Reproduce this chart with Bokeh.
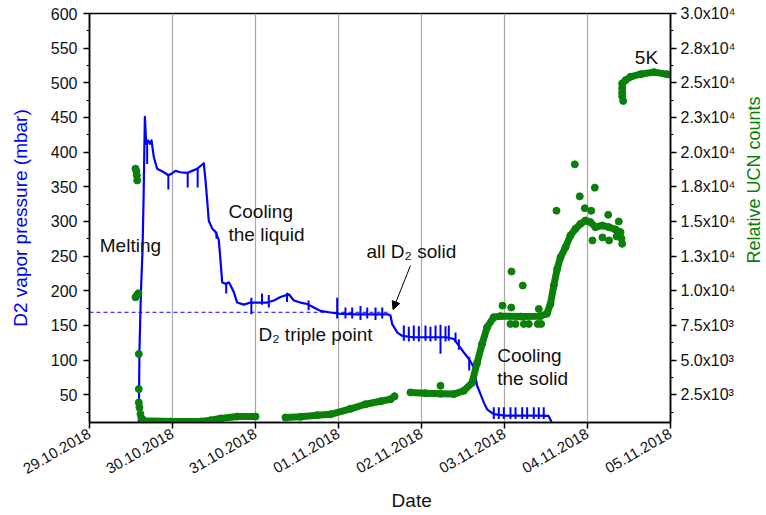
import math
from bokeh.plotting import figure
from bokeh.models import Range1d, LinearAxis, FixedTicker, Label, Arrow, NormalHead
from bokeh.embed import file_html
from bokeh.resources import INLINE

FONT = "Liberation Sans"
BLUE = "#0000ff"
GREEN = "#0a800a"

# ---------------- axes / ticks ----------------
date_ticks = [0, 1, 2, 3, 4, 5, 6, 7]
date_labels = ["29.10.2018", "30.10.2018", "31.10.2018", "01.11.2018",
               "02.11.2018", "03.11.2018", "04.11.2018", "05.11.2018"]
grid_days = [1, 2, 3, 4, 5, 6]

pressure_ticks = [50, 100, 150, 200, 250, 300, 350, 400, 450, 500, 550, 600]
pressure_minor = [25, 75, 125, 175, 225, 275, 325, 375, 425, 475, 525, 575]

ucn_ticks = [2500, 5000, 7500, 10000, 12500, 15000, 17500, 20000, 22500, 25000, 27500, 30000]
ucn_minor = [1250, 3750, 6250, 8750, 11250, 13750, 16250, 18750, 21250, 23750, 26250, 28750]
ucn_tick_labels = ["2.5x10\u00b3", "5.0x10\u00b3", "7.5x10\u00b3", "1.0x10\u2074",
                   "1.3x10\u2074", "1.5x10\u2074", "1.8x10\u2074", "2.0x10\u2074",
                   "2.3x10\u2074", "2.5x10\u2074", "2.8x10\u2074", "3.0x10\u2074"]

# ---------------- D2 vapor pressure (days since 29.10.2018 00:00, mbar) ----------------
blue_day = [0.594, 0.602, 0.620, 0.639, 0.651, 0.667, 0.683, 0.707, 0.727, 0.747,
            0.775, 0.815, 0.896, 0.944, 0.976, 1.036, 1.096, 1.177, 1.237, 1.297,
            1.337, 1.377, 1.398, 1.418, 1.437, 1.478, 1.518, 1.558, 1.578, 1.599,
            1.639, 1.679, 1.699, 1.739, 1.779, 1.859, 1.940, 2.020, 2.141, 2.221,
            2.301, 2.402, 2.462, 2.542, 2.622, 2.702, 2.783, 2.883, 3.000, 3.200,
            3.400, 3.600, 3.627, 3.647, 3.707, 3.767, 3.900, 4.100, 4.300, 4.390,
            4.450, 4.510, 4.570, 4.630, 4.670, 4.711, 4.750, 4.790, 4.870, 5.000,
            5.200, 5.400, 5.530, 5.590]
blue_mbar = [10, 114, 200, 258, 330, 451, 412, 417, 412, 417,
             393, 376, 371, 367, 368, 373, 371, 370, 373, 376,
             380, 384, 359, 330, 301, 290, 285, 273, 244, 212,
             210, 212, 208, 198, 183, 180, 183, 183, 183, 186,
             191, 195, 186, 183, 181, 176, 171, 169, 167, 166,
             166, 166, 164, 152, 140, 135, 133, 133, 133, 130.5,
             121, 111, 102, 89.5, 63, 51, 39, 29, 22, 20,
             20, 20, 19.7, 5]

# pressure spikes (day, low, high)
spike_day = [0.695, 0.950, 1.183, 1.303, 1.530, 1.647, 1.950, 2.078, 2.160, 2.380,
             2.640, 2.984, 3.084, 3.165, 3.265, 3.346, 3.446, 3.527,
             3.787, 3.847, 3.907, 3.968, 4.048, 4.108, 4.169, 4.229, 4.289, 4.329, 4.410,
             4.450, 4.575,
             4.871, 4.931, 4.992, 5.072, 5.133, 5.213, 5.273, 5.353, 5.413, 5.473]
spike_low = [383, 346, 349, 349, 275, 196, 166, 180, 176, 184,
             172, 160, 160, 160, 158, 160, 158, 160,
             128, 127, 128, 127, 128, 127, 128, 109, 127, 128, 126,
             115, 85,
             15, 15, 15, 15, 15, 15, 15, 15, 15, 15]
spike_high = [415, 367, 370, 376, 285, 210, 190, 196, 194, 197,
              186, 190, 176, 176, 178, 176, 176, 176,
              150, 148, 150, 149, 150, 148, 150, 151, 149, 150, 140,
              130, 105,
              32, 32, 32, 32, 32, 32, 32, 32, 32, 32]

triple_point_mbar = 169
triple_line_day = [0.0, 3.6]

# ---------------- Relative UCN counts ----------------
ucn_melt_day = [0.554, 0.566, 0.570, 0.575, 0.554, 0.572, 0.590, 0.594, 0.594, 0.594,
                0.602, 0.614, 0.635]
ucn_melt_counts = [18810, 18610, 18320, 17960, 9530, 9690, 9820, 5440, 2910, 1945,
                   1580, 1110, 745]

ucn_seg1_day = [0.635, 0.654, 0.976, 1.337, 1.458, 1.578, 1.780, 2.000]
ucn_seg1_counts = [745, 620, 570, 570, 660, 790, 930, 930]

ucn_seg2_day = [2.361, 2.542, 2.743, 2.904, 3.145, 3.325, 3.506, 3.627, 3.675]
ucn_seg2_counts = [860, 910, 1030, 1090, 1490, 1815, 2030, 2180, 2390]

ucn_seg3_day = [3.867, 4.048, 4.229, 4.389, 4.510, 4.610, 4.670, 4.730, 4.790, 4.870,
                4.950, 5.190, 5.430, 5.510, 5.554, 5.594, 5.635, 5.675, 5.735, 5.795,
                5.855, 5.916, 5.976, 6.036, 6.096, 6.177, 6.257, 6.337, 6.398]
ucn_seg3_counts = [2670, 2610, 2570, 2550, 2790, 3370, 4810, 6160, 7360, 8090,
                   8170, 8140, 8170, 8350, 9050, 10380, 11580, 12420, 13140, 13990,
                   14470, 14830, 15070, 14950, 14590, 14710, 14590, 14420, 14230]

ucn_seg4_day = [6.418, 6.418, 6.458, 6.518, 6.639, 6.799, 6.960, 7.000]
ucn_seg4_counts = [24270, 24950, 25190, 25430, 25620, 25770, 25620, 25590]

ucn_dots_day = [4.229, 4.976, 5.081, 5.084, 5.220, 5.413, 5.626, 5.847, 5.907, 5.967,
                6.045, 6.088, 6.249, 6.377, 5.072, 5.133, 5.233, 5.293, 5.400, 5.442,
                6.418, 6.410, 6.430, 6.418, 6.418, 6.060, 6.180, 6.260, 6.350]
ucn_dots_counts = [3150, 8930, 8790, 11390, 10380, 8690, 15780, 19120, 16810, 15960,
                   15770, 17440, 15480, 15000, 7610, 7610, 7610, 7610, 7610, 7610,
                   13390, 13770, 23690, 24030, 24610, 13630, 13850, 13630, 13920]

# ---------------- figure ----------------
p = figure(width=766, height=515, x_range=Range1d(0, 7), y_range=Range1d(10, 600),
           output_backend="svg", toolbar_location=None,
           min_border_left=89, min_border_right=96, min_border_top=13, min_border_bottom=93)
p.extra_y_ranges = {"ucn": Range1d(500, 30000)}
p.background_fill_color = "white"
p.outline_line_color = "black"
p.outline_line_width = 1.5
p.ygrid.visible = False
p.xgrid.ticker = FixedTicker(ticks=grid_days)
p.xgrid.grid_line_color = "#a8a8a8"
p.xgrid.grid_line_width = 1.2


def style_axis(ax):
    ax.axis_line_width = 1.5
    ax.axis_line_color = "black"
    ax.major_tick_line_width = 1.5
    ax.minor_tick_line_width = 1.2
    ax.major_tick_out = 6
    ax.major_tick_in = 0
    ax.minor_tick_out = 3
    ax.minor_tick_in = 0
    ax.major_label_text_font = FONT
    ax.major_label_text_font_size = "16px"
    ax.major_label_text_color = "#111111"
    ax.axis_label_text_font = FONT
    ax.axis_label_text_font_style = "normal"
    ax.axis_label_text_font_size = "19px"
    ax.axis_label_text_color = "#111111"


xa = p.xaxis[0]
style_axis(xa)
xa.major_label_text_font_size = "15px"
xa.ticker = FixedTicker(ticks=date_ticks, minor_ticks=[])
xa.major_label_overrides = {t: l for t, l in zip(date_ticks, date_labels)}
xa.major_label_orientation = math.pi / 6
xa.major_label_standoff = 4
xa.axis_label = "\u00a0" * 12 + "Date"
xa.axis_label_standoff = 8

ya = p.yaxis[0]
style_axis(ya)
ya.ticker = FixedTicker(ticks=pressure_ticks, minor_ticks=pressure_minor)
ya.axis_label = "D2 vapor pressure (mbar)"
ya.axis_label_text_color = BLUE
ya.axis_label_standoff = 17
ya.major_label_standoff = 6

ra = LinearAxis(y_range_name="ucn")
style_axis(ra)
ra.ticker = FixedTicker(ticks=ucn_ticks, minor_ticks=ucn_minor)
ra.major_label_overrides = {t: l for t, l in zip(ucn_ticks, ucn_tick_labels)}
ra.major_label_standoff = 4
p.add_layout(ra, "right")

# right-hand title placed in the side panel (screen units relative to that panel)
p.add_layout(Label(x=15, y=245, x_units="screen", y_units="screen",
                   text="Relative  UCN counts", text_font=FONT, text_font_size="18px",
                   text_color=GREEN, angle=math.pi / 2, text_align="center",
                   text_baseline="middle"), "right")

# triple point dashed line
p.line(triple_line_day, [triple_point_mbar, triple_point_mbar], line_color=BLUE,
       line_width=1, line_dash="4 3")

# pressure
p.segment(x0=spike_day, y0=spike_low, x1=spike_day, y1=spike_high,
          line_color=BLUE, line_width=2)
p.line(blue_day, blue_mbar, line_color=BLUE, line_width=2.2, line_join="round")

# UCN
for d, c in [(ucn_seg1_day, ucn_seg1_counts), (ucn_seg2_day, ucn_seg2_counts),
             (ucn_seg3_day, ucn_seg3_counts), (ucn_seg4_day, ucn_seg4_counts)]:
    p.line(d, c, y_range_name="ucn", line_color=GREEN, line_width=7,
           line_join="round", line_cap="round")
    p.scatter(d, c, y_range_name="ucn", size=7, color=GREEN)
p.scatter(ucn_melt_day, ucn_melt_counts, y_range_name="ucn", size=7, color=GREEN)
p.scatter(ucn_dots_day, ucn_dots_counts, y_range_name="ucn", size=7, color=GREEN)


# annotations
def lab(x, y, t, **kw):
    args = dict(x=x, y=y, text=t, text_font=FONT, text_font_size="19px",
                text_color="#111111", text_align="left", text_baseline="alphabetic")
    args.update(kw)
    p.add_layout(Label(**args))


lab(0.124, 266.0, "Melting")
lab(1.675, 314.0, "Cooling")
lab(1.675, 281.5, "the liquid")
lab(3.337, 257.0, "all D\u2082 solid")
lab(2.036, 137.0, "D\u2082 triple point")
lab(4.912, 107.0, "Cooling")
lab(4.912, 74.0, "the solid")
lab(6.570, 536.0, "5K")

p.add_layout(Arrow(end=NormalHead(size=8, fill_color="black", line_color="black",
                                  line_width=1),
                   x_start=3.867, y_start=236.4, x_end=3.657, y_end=172.9,
                   line_color="black", line_width=1))

open("out.html", "w").write(file_html(p, INLINE))
